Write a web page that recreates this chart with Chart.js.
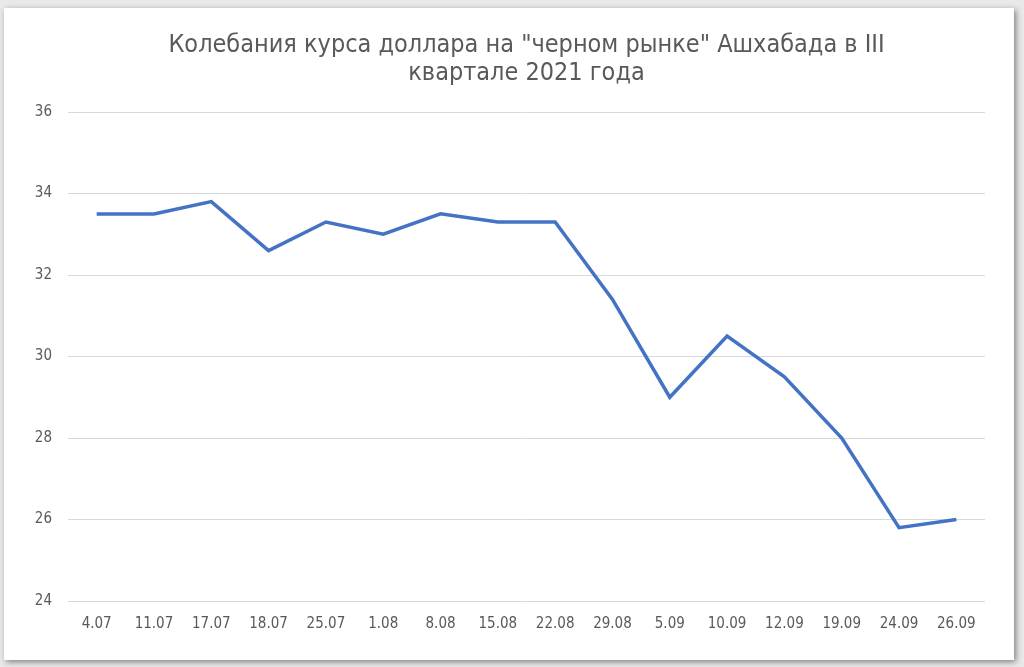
<!DOCTYPE html>
<html>
<head>
<meta charset="utf-8">
<script src="https://cdn.jsdelivr.net/npm/chart.js@4"></script>
<style>
  html, body { margin: 0; padding: 0; background: #fff; }
  body { width: 1024px; height: 667px; position: relative; overflow: hidden; background: #e9e9e9; }
  .frame {
    position: absolute; left: 4px; top: 8px; width: 1010px; height: 652px;
    background: #fff; box-shadow: 2px 2px 6px rgba(0,0,0,0.45);
  }
</style>
</head>
<body>
<div class="frame"><canvas id="rateChart" width="1010" height="652"></canvas></div>
<script>
// dates (III quarter 2021) and black market USD rate
const dates = ["4.07", "11.07", "17.07", "18.07", "25.07", "1.08", "8.08", "15.08",
  "22.08", "29.08", "5.09", "10.09", "12.09", "19.09", "24.09", "26.09"];
const rates = [33.5, 33.5, 33.8, 32.6, 33.3, 33.0, 33.5, 33.3,
  33.3, 31.4, 29.0, 30.5, 29.5, 28.0, 25.8, 26.0];
const yTicks = [24, 26, 28, 30, 32, 34, 36];

const fontFamily = '"Liberation Sans Narrow", "DejaVu Sans Condensed", sans-serif';
const textColor = "#595959";

new Chart(document.getElementById("rateChart"), {
  type: "line",
  data: {
    labels: dates,
    datasets: [
      {
        data: rates,
        borderColor: "#4472C4",
        borderWidth: 3.5,
        pointRadius: 0,
        tension: 0,
        fill: false,
      },
    ],
  },
  options: {
    responsive: false,
    animation: false,
    layout: { padding: { left: 0, right: 29, top: 0, bottom: 0 } },
    plugins: {
      legend: { display: false },
      tooltip: { enabled: false },
      title: {
        display: true,
        fullSize: false,
        text: ['Колебания курса доллара на "черном рынке" Ашхабада в III', "квартале 2021 года"],
        color: textColor,
        font: { family: fontFamily, size: 25, weight: "normal", lineHeight: 1.14 },
        padding: { top: 23, bottom: 24 },
      },
    },
    scales: {
      x: {
        offset: true,
        grid: { display: false },
        border: { display: false },
        ticks: { color: textColor, font: { family: fontFamily, size: 15 }, padding: 6, maxRotation: 0 },
        afterFit: (scale) => { scale.height = 59; },
      },
      y: {
        min: 24,
        max: 36,
        afterBuildTicks: (scale) => { scale.ticks = yTicks.map((v) => ({ value: v })); },
        grid: { color: "#d9d9d9", lineWidth: 1, drawTicks: false },
        border: { display: false },
        ticks: { color: textColor, font: { family: fontFamily, size: 15 }, padding: 16 },
        afterFit: (scale) => { scale.width = 64; },
      },
    },
  },
});
</script>
</body>
</html>
